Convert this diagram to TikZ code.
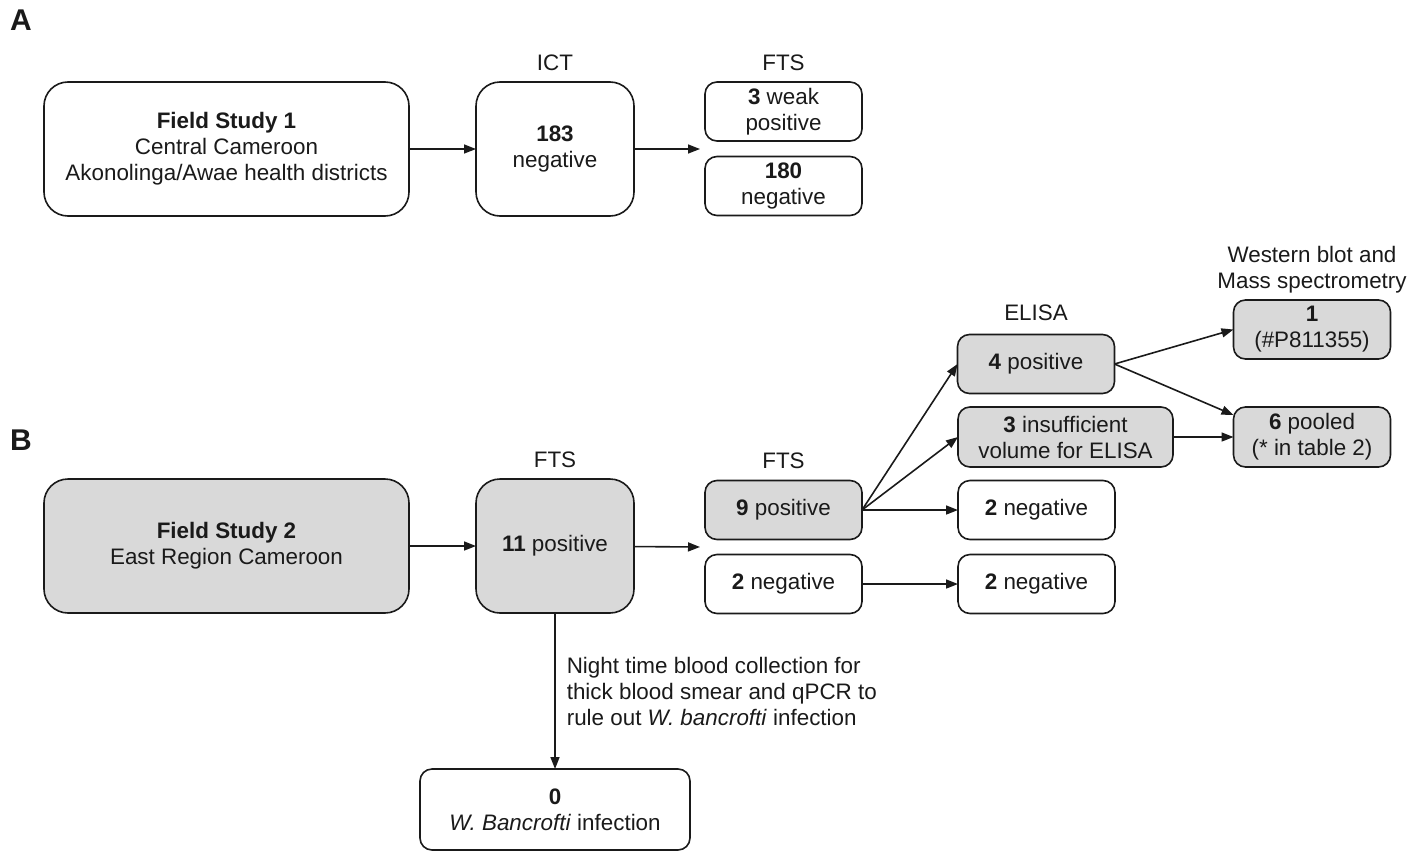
\documentclass[tikz,border=0pt]{standalone}
\usepackage{fontspec}
\setmainfont{Liberation Sans}
\usetikzlibrary{arrows.meta,positioning}
\definecolor{boxgray}{HTML}{D9D9D9}
\definecolor{inkgray}{HTML}{1A1A1A}

\begin{document}
\begin{tikzpicture}[
    x=0.5pt, y=-0.5pt,
    font=\fontsize{11.2}{13}\selectfont, inkgray,
    box/.style={draw, line width=0.8pt, rounded corners=6pt, align=center,
                inner sep=0pt, outer sep=0pt, fill=#1},
    box/.default=white,
    bigbox/.style={box=#1, rounded corners=12pt,
                   minimum width=79pt, minimum height=67pt},
    bigbox/.default=white,
    result/.style={box=#1, minimum width=78.5pt, minimum height=29.5pt},
    result/.default=white,
    head/.style={inner sep=0pt, align=center},
    panel/.style={inner sep=0pt, font=\fontsize{15}{17}\selectfont\bfseries},
    arr/.style={-{Triangle[length=6pt,width=4.5pt]}, line width=0.8pt}
  ]
    \useasboundingbox (0,0) rectangle (1428,851);

    % Panel A
    \node[panel] (pa) at (21,20) {A};
    \node[bigbox, minimum width=182.5pt] (fs1) at (226.5,149)
      {\textbf{Field Study 1}\\Central Cameroon\\Akonolinga/Awae health districts};
    \node[bigbox] (ict) at (555,149) {\textbf{183}\\negative};
    \node[head, above=5.5pt of ict] (ictlbl) {ICT};
    \node[result] (weak3) at (783.5,111.5) {\textbf{3} weak\\positive};
    \node[result] (neg180) at (783.5,186) {\textbf{180}\\negative};
    \node[head, above=5.5pt of weak3] (ftslblA) {FTS};
    \coordinate (ftsA) at (700,149);

    \draw[arr] (fs1) -- (ict);
    \draw[arr] (ict) -- (ftsA);

    % Panel B
    \node[panel] (pb) at (21,440) {B};
    \node[bigbox=boxgray, minimum width=182.5pt] (fs2) at (226.5,546)
      {\textbf{Field Study 2}\\East Region Cameroon};
    \node[bigbox=boxgray] (pos11) at (555,546) {\textbf{11} positive};
    \node[head, above=5.5pt of pos11] (ftslblB) {FTS};
    \node[result=boxgray] (pos9) at (783.5,510) {\textbf{9} positive};
    \node[result] (negL) at (783.5,584) {\textbf{2} negative};
    \node[head, above=5.5pt of pos9] (ftslblC) {FTS};
    \coordinate (ftsB) at (700,547);
    \node[result] (negR1) at (1036.5,510) {\textbf{2} negative};
    \node[result] (negR2) at (1036.5,584) {\textbf{2} negative};
    \node[result=boxgray] (pos4) at (1036,364) {\textbf{4} positive};
    \node[head, above=6.5pt of pos4] (elisalbl) {ELISA};
    \node[result=boxgray, minimum width=107.5pt, minimum height=30pt] (insuf3) at (1065.5,437)
      {\textbf{3} insufficient\\volume for ELISA};
    \node[result=boxgray] (wb1) at (1312,329.5) {\textbf{1}\\(\#P811355)};
    \node[result=boxgray, minimum height=30pt] (pool6) at (1312,437)
      {\textbf{6} pooled\\(* in table 2)};
    \node[head, above=3pt of wb1] (wblbl) {Western blot and\\Mass spectrometry};
    \node[box, minimum width=135pt, minimum height=40.5pt] (banc0) at (555,809.5)
      {\textbf{0}\\\textit{W. Bancrofti} infection};

    \draw[arr] (fs2) -- (pos11);
    \draw[arr] (pos11) -- (ftsB);
    \draw[arr] (pos9.east) -- (pos4.west);
    \draw[arr] (pos9.east) -- (insuf3.west);
    \draw[arr] (pos9.east) -- (negR1.west);
    \draw[arr] (negL) -- (negR2);
    \draw[arr] (pos4.east) -- (wb1.west);
    \draw[arr] (pos4.east) -- ([yshift=11pt]pool6.west);
    \draw[arr] (insuf3) -- (pool6);
    \draw[arr] (pos11) -- node[right, inner xsep=5.5pt, inner ysep=0pt, align=left]
      {Night time blood collection for\\thick blood smear and qPCR to\\rule out \textit{W. bancrofti} infection} (banc0);
  \end{tikzpicture}
\end{document}
